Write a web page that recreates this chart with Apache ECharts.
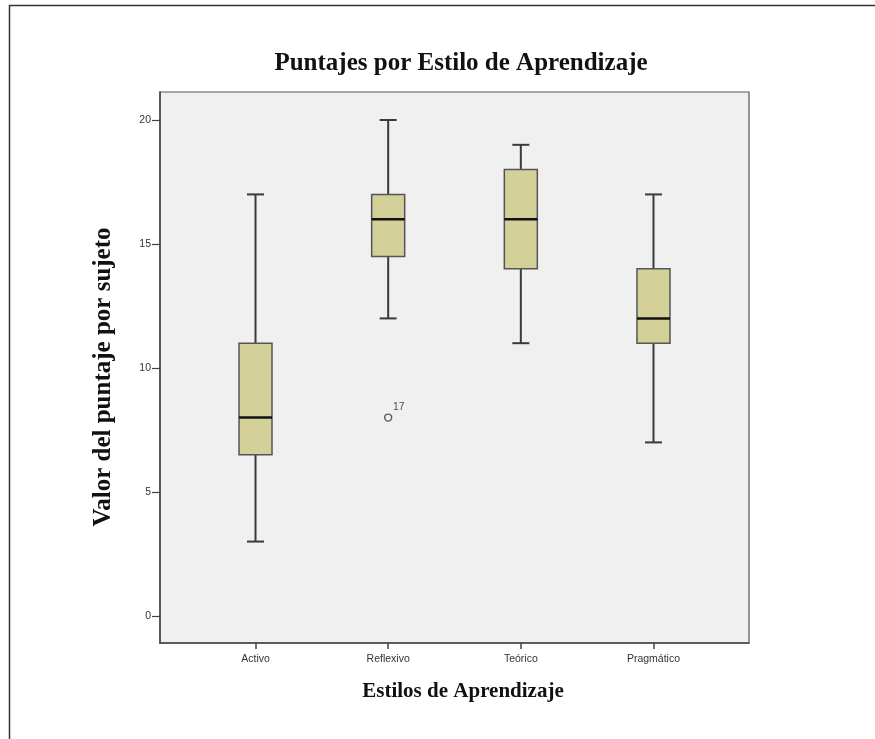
<!DOCTYPE html>
<html>
<head>
<meta charset="utf-8">
<script src="https://cdn.jsdelivr.net/npm/echarts@6/dist/echarts.min.js"></script>
<style>html,body{margin:0;padding:0;background:#fff;}#c{width:875px;height:739px;}</style>
</head>
<body>
<div id="c"></div>
<script>
const categories = ['Activo', 'Reflexivo', 'Teórico', 'Pragmático'];
const mins    = [3, 12, 11, 7];
const q1s     = [6.5, 14.5, 14, 11];
const medians = [8, 16, 16, 12];
const q3s     = [11, 17, 18, 14];
const maxs    = [17, 20, 19, 17];
const outliers = [[2, 8, '17']];
const yTicks = [0, 5, 10, 15, 20];

const boxData = categories.map((c, i) => [i + 1, mins[i], q1s[i], medians[i], q3s[i], maxs[i]]);
const xTicks = categories.map((c, i) => i + 1);

const chart = echarts.init(document.getElementById('c'), null, {renderer: 'canvas'});
const serif = '"Liberation Serif", "DejaVu Serif", serif';
const sans = '"Liberation Sans", Arial, sans-serif';

function renderBox(params, api) {
  const x = api.value(0);
  const pMin = api.coord([x, api.value(1)]);
  const pQ1 = api.coord([x, api.value(2)]);
  const pMed = api.coord([x, api.value(3)]);
  const pQ3 = api.coord([x, api.value(4)]);
  const pMax = api.coord([x, api.value(5)]);
  const cx = pMin[0];
  const bw = 33, cw = 17;
  const lineStyle = {stroke: '#3a3a3a', lineWidth: 2};
  return {
    type: 'group',
    children: [
      {type: 'line', shape: {x1: cx, y1: pMin[1], x2: cx, y2: pQ1[1]}, style: lineStyle},
      {type: 'line', shape: {x1: cx, y1: pQ3[1], x2: cx, y2: pMax[1]}, style: lineStyle},
      {type: 'line', shape: {x1: cx - cw / 2, y1: pMin[1], x2: cx + cw / 2, y2: pMin[1]}, style: lineStyle},
      {type: 'line', shape: {x1: cx - cw / 2, y1: pMax[1], x2: cx + cw / 2, y2: pMax[1]}, style: lineStyle},
      {type: 'rect', shape: {x: cx - bw / 2, y: pQ3[1], width: bw, height: pQ1[1] - pQ3[1]},
        style: {fill: '#d4d09a', stroke: '#555555', lineWidth: 1.5}},
      {type: 'line', shape: {x1: cx - bw / 2, y1: pMed[1], x2: cx + bw / 2, y2: pMed[1]},
        style: {stroke: '#111', lineWidth: 2.5}}
    ]
  };
}

chart.setOption({
  animation: false,
  backgroundColor: '#ffffff',
  title: {
    text: 'Puntajes por Estilo de Aprendizaje',
    left: 456, top: 46, textAlign: 'center',
    textStyle: {fontFamily: serif, fontSize: 25, fontWeight: 'bold', color: '#111'}
  },
  graphic: [
    {type: 'rect', shape: {x: 9.5, y: 5.5, width: 1000, height: 1000},
      style: {fill: 'none', stroke: '#333', lineWidth: 1.5}, silent: true},
    {type: 'text', x: 104, y: 377, rotation: Math.PI / 2,
      style: {text: 'Valor del puntaje por sujeto', font: 'bold 25px ' + serif, fill: '#111',
        align: 'center', verticalAlign: 'middle'}}
  ],
  grid: {
    left: 160, top: 92, width: 589, height: 551,
    show: true, backgroundColor: '#f0f0f0', borderColor: '#555', borderWidth: 1.2
  },
  xAxis: {
    type: 'value', min: 0.28, max: 4.72,
    name: 'Estilos de Aprendizaje', nameLocation: 'middle', nameGap: 38,
    nameTextStyle: {fontFamily: serif, fontSize: 21, fontWeight: 'bold', color: '#111', padding: [0, 0, 0, 17]},
    axisLine: {show: true, onZero: false, lineStyle: {color: '#444', width: 1.5}},
    axisTick: {show: true, length: 6, lineStyle: {color: '#444', width: 1.5}, customValues: xTicks},
    axisLabel: {customValues: xTicks, margin: 11, fontFamily: sans, fontSize: 10.5, color: '#333',
      formatter: v => categories[Math.round(v) - 1] || ''},
    splitLine: {show: false}
  },
  yAxis: {
    type: 'value', min: -1.09, max: 21.13,
    axisLine: {show: true, onZero: false, lineStyle: {color: '#444', width: 1.5}},
    axisTick: {show: true, length: 8, lineStyle: {color: '#444', width: 1.2}, customValues: yTicks},
    axisLabel: {customValues: yTicks, margin: 9, fontFamily: sans, fontSize: 10.5, color: '#333'},
    splitLine: {show: false}
  },
  series: [
    {type: 'custom', renderItem: renderBox, data: boxData, encode: {x: 0, y: [1, 2, 3, 4, 5]}, clip: false},
    {type: 'scatter', data: outliers.map(o => [o[0], o[1]]), symbol: 'circle', symbolSize: 7,
      itemStyle: {color: 'rgba(0,0,0,0)', borderColor: '#333', borderWidth: 1.4},
      label: {show: true, formatter: p => outliers[p.dataIndex][2], position: [9, -12],
        fontFamily: sans, fontSize: 10.5, color: '#222'}}
  ]
});
</script>
</body>
</html>
